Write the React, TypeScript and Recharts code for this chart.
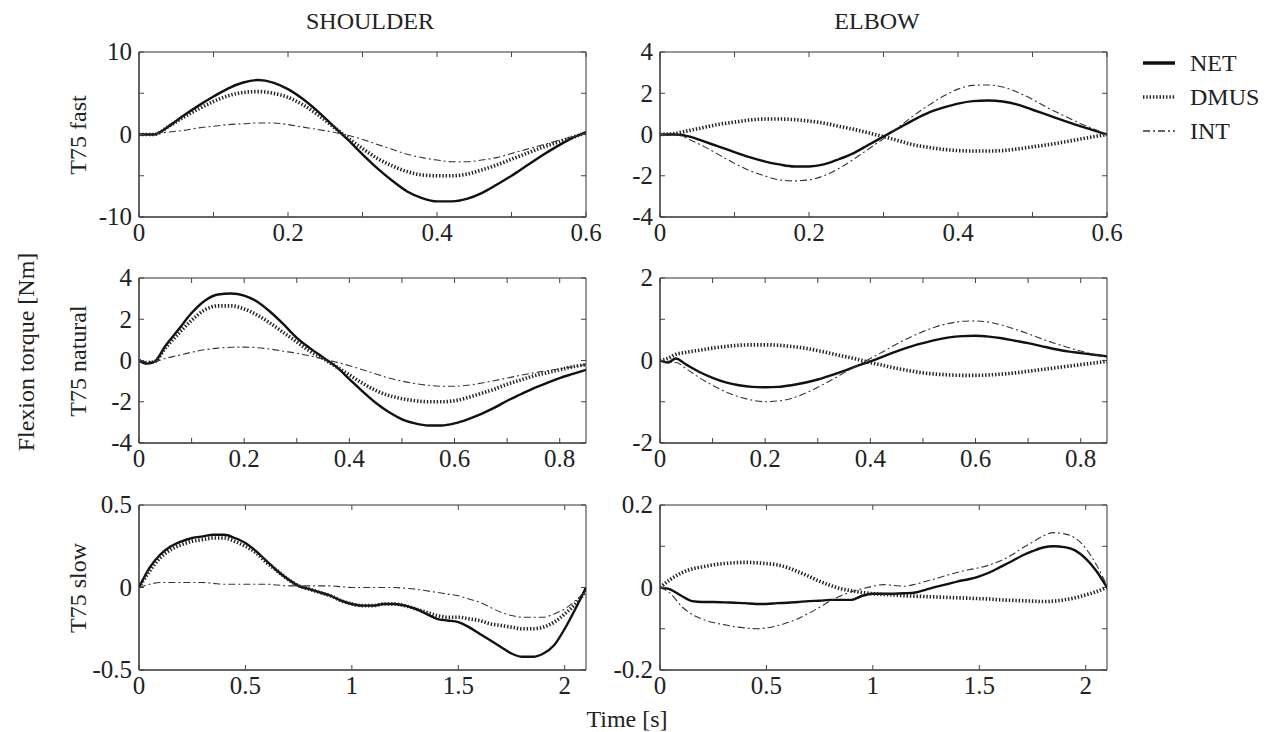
import { LineChart, Line, XAxis, YAxis, ReferenceArea } from 'recharts'

// ---- data ----
const tFast = [0, 0.02, 0.04, 0.06, 0.08, 0.1, 0.12, 0.14, 0.16, 0.18, 0.2, 0.22, 0.24, 0.26, 0.28, 0.3, 0.32, 0.34, 0.36, 0.38, 0.4, 0.42, 0.44, 0.46, 0.48, 0.5, 0.52, 0.54, 0.56, 0.58, 0.6]
const shFastNet = [0, 0, 1.0, 2.3, 3.5, 4.6, 5.6, 6.3, 6.6, 6.3, 5.5, 4.3, 2.8, 1.1, -0.6, -2.4, -4.1, -5.6, -6.9, -7.7, -8.1, -8.1, -7.8, -7.1, -6.1, -5.0, -3.8, -2.6, -1.5, -0.5, 0.3]
const shFastDmus = [0, 0, 1.0, 2.1, 3.1, 4.0, 4.7, 5.1, 5.2, 5.0, 4.5, 3.6, 2.4, 1.0, -0.4, -1.7, -2.9, -3.8, -4.5, -4.9, -5.0, -5.0, -4.8, -4.3, -3.7, -3.0, -2.3, -1.6, -1.0, -0.4, 0.2]
const shFastInt = [0, 0.1, 0.3, 0.5, 0.8, 1.0, 1.2, 1.3, 1.4, 1.4, 1.2, 0.9, 0.6, 0.3, -0.1, -0.6, -1.2, -1.8, -2.4, -2.8, -3.1, -3.3, -3.3, -3.1, -2.8, -2.3, -1.8, -1.3, -0.8, -0.3, 0.2]
const elFastNet = [0, 0, -0.1, -0.35, -0.6, -0.85, -1.1, -1.3, -1.45, -1.55, -1.55, -1.45, -1.2, -0.9, -0.5, -0.1, 0.3, 0.7, 1.05, 1.3, 1.5, 1.62, 1.65, 1.6, 1.45, 1.2, 0.95, 0.7, 0.45, 0.22, 0]
const elFastDmus = [0, 0.05, 0.2, 0.35, 0.5, 0.6, 0.7, 0.75, 0.75, 0.72, 0.65, 0.55, 0.4, 0.25, 0.08, -0.1, -0.3, -0.5, -0.62, -0.72, -0.78, -0.8, -0.8, -0.78, -0.7, -0.6, -0.5, -0.38, -0.25, -0.12, 0]
const elFastInt = [0, 0, -0.25, -0.6, -1.0, -1.4, -1.75, -2.0, -2.2, -2.25, -2.2, -2.0, -1.65, -1.2, -0.7, -0.2, 0.35, 0.9, 1.4, 1.85, 2.2, 2.38, 2.4, 2.3, 2.05, 1.7, 1.3, 0.95, 0.6, 0.3, 0]

const tNat = [0, 0.015, 0.03, 0.05, 0.075, 0.1, 0.125, 0.15, 0.175, 0.2, 0.225, 0.25, 0.275, 0.3, 0.325, 0.35, 0.375, 0.4, 0.425, 0.45, 0.475, 0.5, 0.525, 0.55, 0.575, 0.6, 0.625, 0.65, 0.675, 0.7, 0.725, 0.75, 0.775, 0.8, 0.825, 0.85]
const shNatNet = [0, -0.15, -0.05, 0.7, 1.5, 2.3, 2.9, 3.2, 3.25, 3.15, 2.85, 2.35, 1.75, 1.1, 0.6, 0.15, -0.3, -0.9, -1.5, -2.05, -2.5, -2.85, -3.05, -3.15, -3.15, -3.05, -2.85, -2.6, -2.3, -1.95, -1.65, -1.35, -1.1, -0.85, -0.65, -0.45]
const shNatDmus = [0, -0.1, -0.05, 0.6, 1.3, 1.95, 2.45, 2.65, 2.65, 2.5, 2.2, 1.8, 1.35, 0.9, 0.45, 0.1, -0.3, -0.7, -1.1, -1.45, -1.7, -1.85, -1.95, -2.0, -2.0, -1.95, -1.8, -1.6, -1.4, -1.15, -0.95, -0.75, -0.6, -0.45, -0.3, -0.2]
const shNatInt = [0, -0.05, -0.05, 0.1, 0.25, 0.4, 0.52, 0.6, 0.64, 0.65, 0.62, 0.55, 0.45, 0.35, 0.22, 0.08, -0.08, -0.25, -0.45, -0.65, -0.85, -1.0, -1.12, -1.2, -1.25, -1.25, -1.2, -1.1, -0.98, -0.85, -0.72, -0.6, -0.5, -0.4, -0.3, -0.2]
const elNatNet = [0, -0.05, 0.05, -0.1, -0.28, -0.42, -0.53, -0.6, -0.64, -0.65, -0.64, -0.6, -0.54, -0.46, -0.36, -0.25, -0.13, -0.02, 0.1, 0.22, 0.33, 0.42, 0.5, 0.56, 0.59, 0.6, 0.58, 0.54, 0.48, 0.42, 0.35, 0.28, 0.22, 0.18, 0.14, 0.1]
const elNatDmus = [0, 0.05, 0.15, 0.2, 0.25, 0.3, 0.34, 0.37, 0.38, 0.38, 0.37, 0.34, 0.3, 0.24, 0.17, 0.1, 0.03, -0.05, -0.12, -0.19, -0.25, -0.3, -0.33, -0.35, -0.36, -0.36, -0.35, -0.33, -0.3, -0.26, -0.22, -0.18, -0.14, -0.1, -0.06, -0.02]
const elNatInt = [0, -0.05, -0.05, -0.2, -0.42, -0.6, -0.76, -0.88, -0.96, -1.0, -0.98, -0.92, -0.8, -0.65, -0.48, -0.3, -0.12, 0.05, 0.22, 0.4, 0.56, 0.7, 0.82, 0.9, 0.95, 0.96, 0.93, 0.86, 0.76, 0.65, 0.53, 0.42, 0.32, 0.23, 0.15, 0.08]

const tSlow = [0, 0.05, 0.1, 0.15, 0.2, 0.25, 0.3, 0.35, 0.4, 0.45, 0.5, 0.55, 0.6, 0.65, 0.7, 0.75, 0.8, 0.85, 0.9, 0.95, 1.0, 1.05, 1.1, 1.15, 1.2, 1.25, 1.3, 1.35, 1.4, 1.45, 1.5, 1.55, 1.6, 1.65, 1.7, 1.75, 1.8, 1.85, 1.9, 1.95, 2.0, 2.05, 2.1]
const shSlowNet = [0, 0.12, 0.2, 0.25, 0.28, 0.3, 0.31, 0.32, 0.32, 0.3, 0.27, 0.22, 0.16, 0.1, 0.05, 0.01, -0.01, -0.03, -0.05, -0.08, -0.1, -0.11, -0.11, -0.1, -0.1, -0.11, -0.13, -0.16, -0.19, -0.2, -0.21, -0.24, -0.28, -0.32, -0.36, -0.4, -0.42, -0.42, -0.4, -0.35, -0.25, -0.13, 0]
const shSlowDmus = [0, 0.1, 0.18, 0.23, 0.26, 0.28, 0.29, 0.3, 0.3, 0.28, 0.25, 0.21, 0.15, 0.1, 0.05, 0.01, -0.01, -0.03, -0.05, -0.08, -0.1, -0.11, -0.11, -0.1, -0.1, -0.11, -0.13, -0.15, -0.17, -0.18, -0.18, -0.19, -0.2, -0.22, -0.23, -0.24, -0.25, -0.25, -0.24, -0.21, -0.16, -0.1, -0.02]
const shSlowInt = [0, 0.02, 0.03, 0.03, 0.03, 0.03, 0.03, 0.025, 0.02, 0.02, 0.02, 0.02, 0.02, 0.015, 0.01, 0.01, 0.01, 0.01, 0.01, 0.005, 0, 0, 0, 0, 0, -0.005, -0.01, -0.02, -0.03, -0.04, -0.05, -0.07, -0.09, -0.12, -0.15, -0.17, -0.18, -0.18, -0.18, -0.16, -0.13, -0.08, -0.02]
const elSlowNet = [0, -0.005, -0.02, -0.033, -0.035, -0.035, -0.036, -0.037, -0.038, -0.04, -0.04, -0.038, -0.037, -0.035, -0.033, -0.032, -0.03, -0.03, -0.03, -0.02, -0.015, -0.015, -0.015, -0.014, -0.012, -0.005, 0.002, 0.008, 0.015, 0.02, 0.027, 0.037, 0.05, 0.063, 0.077, 0.088, 0.097, 0.1, 0.098, 0.09, 0.07, 0.04, 0]
const elSlowDmus = [0, 0.02, 0.035, 0.045, 0.05, 0.055, 0.058, 0.06, 0.061, 0.06, 0.058, 0.055, 0.048, 0.038, 0.027, 0.015, 0.005, -0.003, -0.008, -0.012, -0.015, -0.017, -0.018, -0.02, -0.021, -0.022, -0.023, -0.024, -0.025, -0.026, -0.027, -0.028, -0.03, -0.031, -0.032, -0.033, -0.034, -0.033, -0.03, -0.025, -0.018, -0.01, 0]
const elSlowInt = [0, -0.015, -0.045, -0.065, -0.077, -0.085, -0.09, -0.095, -0.098, -0.1, -0.098, -0.093, -0.085, -0.075, -0.062, -0.048, -0.033, -0.02, -0.01, -0.003, 0.003, 0.007, 0.005, 0.003, 0.008, 0.015, 0.022, 0.03, 0.037, 0.043, 0.048, 0.055, 0.065, 0.078, 0.095, 0.11, 0.125, 0.133, 0.13, 0.12, 0.095, 0.055, 0.005]

// ticks
const xTicksFast = [0, 0.1, 0.2, 0.3, 0.4, 0.5, 0.6]
const xLabelsFast = [0, 0.2, 0.4, 0.6]
const xTicksNat = [0, 0.1, 0.2, 0.3, 0.4, 0.5, 0.6, 0.7, 0.8]
const xLabelsNat = [0, 0.2, 0.4, 0.6, 0.8]
const xTicksSlow = [0, 0.5, 1, 1.5, 2]
const yTicksShFast = [-10, -5, 0, 5, 10]
const yLabelsShFast = [-10, 0, 10]
const yTicks4 = [-4, -2, 0, 2, 4]
const yTicksElNat = [-2, -1, 0, 1, 2]
const yLabelsElNat = [-2, 0, 2]
const yTicksShSlow = [-0.5, 0, 0.5]
const yTicksElSlow = [-0.2, -0.1, 0, 0.1, 0.2]
const yLabelsElSlow = [-0.2, 0, 0.2]

const SERIES = [
  { key: 'net', name: 'NET', stroke: '#111', width: 2.4, dash: undefined as string | undefined },
  { key: 'dmus', name: 'DMUS', stroke: '#222', width: 3.6, dash: '1.4 1.9' },
  { key: 'int', name: 'INT', stroke: '#333', width: 1.1, dash: '7 3 2 3' },
]

const FONT = '"Liberation Serif", "Times New Roman", serif'
const SH_LEFT = 139
const EL_LEFT = 660
const PW = 447
const PH = 165
const ROW_TOPS = [52, 278, 505]
const PAD_T = 20
const PAD_L = 70
const PAD_R = 20
const PAD_B = 40

const build = (t: number[], net: number[], dmus: number[], int: number[]) =>
  t.map((x, i) => ({ t: x, net: net[i], dmus: dmus[i], int: int[i] }))

const has = (arr: number[], v: number) => arr.some(a => Math.abs(a - v) < 1e-9)

const makeTick = (side: string, labels: number[]) => (props: any) => {
  const { x, y, payload } = props
  const v = payload.value
  const label = has(labels, v) ? String(v) : null
  const tick = { stroke: '#444', strokeWidth: 1 }
  if (side === 'bottom') return (
    <g>
      <line x1={x} y1={y} x2={x} y2={y - 5} {...tick} />
      {label && <text x={x} y={y + 24} textAnchor="middle" fontSize={25} fontFamily={FONT} fill="#222">{label}</text>}
    </g>
  )
  if (side === 'top') return <line x1={x} y1={y} x2={x} y2={y + 5} {...tick} />
  if (side === 'left') return (
    <g>
      <line x1={x} y1={y} x2={x + 5} y2={y} {...tick} />
      {label && <text x={x - 7} y={y} dy="0.33em" textAnchor="end" fontSize={25} fontFamily={FONT} fill="#222">{label}</text>}
    </g>
  )
  return <line x1={x} y1={y} x2={x - 5} y2={y} {...tick} />
}

interface PanelProps {
  left: number
  top: number
  data: any[]
  xDomain: [number, number]
  xTicks: number[]
  xLabels: number[]
  yDomain: [number, number]
  yTicks: number[]
  yLabels: number[]
}

function Panel({ left, top, data, xDomain, xTicks, xLabels, yDomain, yTicks, yLabels }: PanelProps) {
  return (
    <div style={{ position: 'absolute', left: left - PAD_L, top: top - PAD_T }}>
      <LineChart width={PW + PAD_L + PAD_R} height={PH + PAD_T + PAD_B} data={data}
        margin={{ top: PAD_T - 1, right: PAD_R - 1, bottom: 0, left: 0 }}>
        <XAxis dataKey="t" type="number" domain={xDomain} ticks={xTicks} interval={0} allowDataOverflow
          height={PAD_B} tickSize={0} tickMargin={0} tickLine={false} stroke="#333" tick={makeTick('bottom', xLabels)} />
        <XAxis xAxisId="top" orientation="top" dataKey="t" type="number" domain={xDomain} ticks={xTicks} interval={0} allowDataOverflow
          height={1} tickSize={0} tickMargin={0} tickLine={false} axisLine={false} tick={makeTick('top', [])} />
        <YAxis type="number" domain={yDomain} ticks={yTicks} interval={0} allowDataOverflow
          width={PAD_L} tickSize={0} tickMargin={0} tickLine={false} stroke="#333" tick={makeTick('left', yLabels)} />
        <YAxis yAxisId="r" orientation="right" type="number" domain={yDomain} ticks={yTicks} interval={0} allowDataOverflow
          width={1} tickSize={0} tickMargin={0} tickLine={false} axisLine={false} tick={makeTick('right', [])} />
        <ReferenceArea x1={xDomain[0]} x2={xDomain[1]} y1={yDomain[0]} y2={yDomain[1]}
          fill="none" fillOpacity={0} stroke="#333" strokeWidth={1} ifOverflow="visible" />
        {SERIES.map(s => (
          <Line key={s.key} type="monotone" dataKey={s.key} stroke={s.stroke} strokeWidth={s.width}
            strokeDasharray={s.dash} dot={false} isAnimationActive={false} />
        ))}
        {/* invisible series bound to the mirrored axes so their tick marks are drawn */}
        <Line xAxisId="top" yAxisId="r" dataKey="net" stroke="none" dot={false} isAnimationActive={false} legendType="none" />
      </LineChart>
    </div>
  )
}

const txt = { position: 'absolute' as const, fontFamily: FONT, color: '#222', whiteSpace: 'nowrap' as const, lineHeight: 1 }

function Rotated({ cx, cy, children }: { cx: number; cy: number; children: any }) {
  return (
    <div style={{ ...txt, left: cx, top: cy, fontSize: 24, transform: 'translate(-50%, -50%) rotate(-90deg)' }}>{children}</div>
  )
}

export default function App() {
  const rows = [
    { xDomain: [0, 0.6] as [number, number], xTicks: xTicksFast, xLabels: xLabelsFast,
      sh: build(tFast, shFastNet, shFastDmus, shFastInt), shY: [-10, 10] as [number, number], shT: yTicksShFast, shL: yLabelsShFast,
      el: build(tFast, elFastNet, elFastDmus, elFastInt), elY: [-4, 4] as [number, number], elT: yTicks4, elL: yTicks4 },
    { xDomain: [0, 0.85] as [number, number], xTicks: xTicksNat, xLabels: xLabelsNat,
      sh: build(tNat, shNatNet, shNatDmus, shNatInt), shY: [-4, 4] as [number, number], shT: yTicks4, shL: yTicks4,
      el: build(tNat, elNatNet, elNatDmus, elNatInt), elY: [-2, 2] as [number, number], elT: yTicksElNat, elL: yLabelsElNat },
    { xDomain: [0, 2.1] as [number, number], xTicks: xTicksSlow, xLabels: xTicksSlow,
      sh: build(tSlow, shSlowNet, shSlowDmus, shSlowInt), shY: [-0.5, 0.5] as [number, number], shT: yTicksShSlow, shL: yTicksShSlow,
      el: build(tSlow, elSlowNet, elSlowDmus, elSlowInt), elY: [-0.2, 0.2] as [number, number], elT: yTicksElSlow, elL: yLabelsElSlow },
  ]
  const rowLabels = ['T75 fast', 'T75 natural', 'T75 slow']

  return (
    <div style={{ position: 'absolute', left: 0, top: 0, width: 1271, height: 732, background: '#fff', overflow: 'hidden' }}>
      <div style={{ ...txt, left: 370, top: 21, fontSize: 24, transform: 'translate(-50%, -50%)' }}>SHOULDER</div>
      <div style={{ ...txt, left: 877, top: 21, fontSize: 24, transform: 'translate(-50%, -50%)' }}>ELBOW</div>

      {rows.map((r, i) => (
        <div key={i}>
          <Panel left={SH_LEFT} top={ROW_TOPS[i]} data={r.sh} xDomain={r.xDomain} xTicks={r.xTicks} xLabels={r.xLabels}
            yDomain={r.shY} yTicks={r.shT} yLabels={r.shL} />
          <Panel left={EL_LEFT} top={ROW_TOPS[i]} data={r.el} xDomain={r.xDomain} xTicks={r.xTicks} xLabels={r.xLabels}
            yDomain={r.elY} yTicks={r.elT} yLabels={r.elL} />
          <Rotated cx={78} cy={ROW_TOPS[i] + PH / 2}>{rowLabels[i]}</Rotated>
        </div>
      ))}

      <Rotated cx={26} cy={352}>Flexion torque [Nm]</Rotated>
      <div style={{ ...txt, left: 627, top: 719, fontSize: 24, transform: 'translate(-50%, -50%)' }}>Time [s]</div>

      {/* legend */}
      <div style={{ position: 'absolute', left: 1143, top: 46 }}>
        {SERIES.map(s => (
          <div key={s.key} style={{ display: 'flex', alignItems: 'center', height: 34 }}>
            <svg width={32} height={10} style={{ marginRight: 15 }}>
              <line x1={0} y1={5} x2={32} y2={5} stroke={s.stroke} strokeWidth={s.key === 'net' ? 3.5 : s.width + (s.key === 'int' ? 0.4 : 0)} strokeDasharray={s.dash} />
            </svg>
            <span style={{ fontFamily: FONT, fontSize: 24, color: '#222' }}>{s.name}</span>
          </div>
        ))}
      </div>
    </div>
  )
}
